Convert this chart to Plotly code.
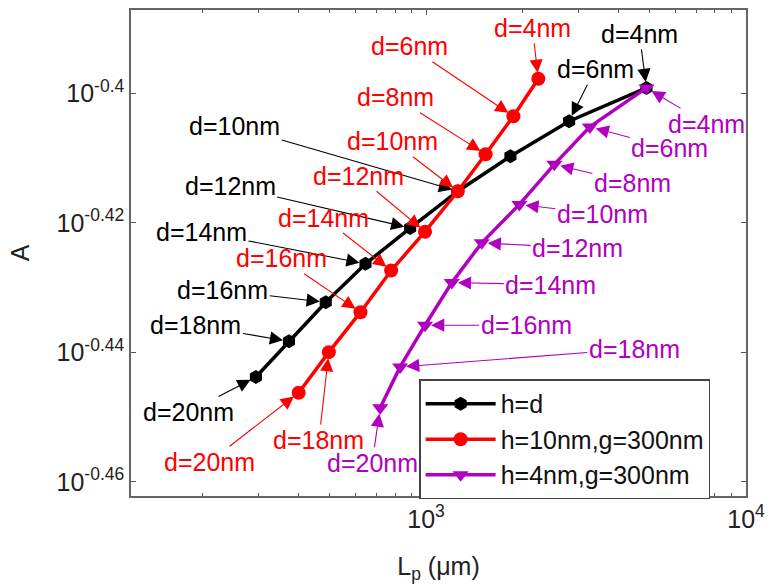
import numpy as np
import plotly.graph_objects as go

# ---------------- data ----------------
d_nm = [20, 18, 16, 14, 12, 10, 8, 6, 4]

black_Lp = [294, 373, 486, 647, 892, 1257, 1836, 2800, 4885]
black_A = [0.3599, 0.3645, 0.3696, 0.3747, 0.3795, 0.3845, 0.3893, 0.3942, 0.3989]

red_Lp = [400, 497, 624, 778, 993, 1257, 1535, 1875, 2244]
red_A = [0.3579, 0.3631, 0.3683, 0.3738, 0.3790, 0.3845, 0.3896, 0.3949, 0.4002]

purple_Lp = [719, 830, 993, 1204, 1493, 1958, 2518, 3251, 4885]
purple_A = [0.3560, 0.3612, 0.3666, 0.3722, 0.3775, 0.3827, 0.3882, 0.3934, 0.3989]

series_names = ["h=d", "h=10nm,g=300nm", "h=4nm,g=300nm"]

x_tickvals = [1e3, 1e4]
x_ticktext = ["10<sup>3</sup>", "10<sup>4</sup>"]
y_exponents = ["-0.4", "-0.42", "-0.44", "-0.46"]

# label offsets (pixels, text centre relative to the point); None = no label
black_off = [(-67, 35), (-93, -16), (-103, -12), (-164, -32), (-180, -42),
             (-223, -65), None, (26, -52), (-7, -54)]
red_off = [(-89, 69), (-10, 88), (-79, -54), (-68, -53), (-67, -56),
           (-65, -50), (-90, -57), (-104, -70), (-6, -51)]
purple_off = [(-8, 55), (234, -18), (101, 0), (99, 2), (96, 5),
              (83, 10), (78, 19), (80, 21), (60, 36)]

BLACK = "#000000"
RED = "#FF0000"
PURPLE = "#B000C0"
FONT = "Liberation Sans, Arial, sans-serif"
FS = 25

fig = go.Figure()
for name, xs, ys, col, sym in [
    (series_names[0], black_Lp, black_A, BLACK, "hexagon"),
    (series_names[1], red_Lp, red_A, RED, "circle"),
    (series_names[2], purple_Lp, purple_A, PURPLE, "triangle-down"),
]:
    fig.add_trace(go.Scatter(
        x=xs, y=ys, name=name, mode="lines+markers",
        line=dict(color=col, width=3.5),
        marker=dict(color=col, size=14, symbol=sym),
    ))

annotations = []
for xs, ys, offs, col in [
    (black_Lp, black_A, black_off, BLACK),
    (red_Lp, red_A, red_off, RED),
    (purple_Lp, purple_A, purple_off, PURPLE),
]:
    for d, x, y, off in zip(d_nm, xs, ys, offs):
        if off is None:
            continue
        annotations.append(dict(
            x=np.log10(x), y=np.log10(y), xref="x", yref="y",
            text=f"d={d}nm", showarrow=True, ax=off[0], ay=off[1],
            arrowhead=2, arrowsize=2.4, arrowwidth=1.1, arrowcolor=col,
            standoff=6, font=dict(family=FONT, size=FS, color=col),
        ))

fig.update_layout(
    width=773, height=584,
    margin=dict(l=131, r=23, t=8, b=88),
    paper_bgcolor="white", plot_bgcolor="white",
    font=dict(family=FONT, size=FS, color="#222"),
    showlegend=True,
    legend=dict(
        x=0.4685, y=0.2398, xanchor="left", yanchor="top",
        bgcolor="white", bordercolor="#444", borderwidth=1.5,
        font=dict(family=FONT, size=25, color="#111"),
        itemwidth=70, tracegroupgap=0,
    ),
    annotations=annotations,
    xaxis=dict(
        type="log", range=[2.078, 4.0],
        tickmode="array", tickvals=x_tickvals, ticktext=x_ticktext,
        ticks="inside", ticklen=5, tickcolor="#555",
        showline=True, linecolor="#666", linewidth=1.5, mirror="allticks",
        showgrid=False, zeroline=False,
        minor=dict(
            tickmode="array",
            tickvals=[v * m for m in (100, 1000) for v in range(2, 10)],
            ticks="inside", ticklen=3, tickcolor="#555", showgrid=False,
        ),
        tickfont=dict(family=FONT, size=FS, color="#222"),
        title=dict(text="L<sub>p</sub> (μm)", standoff=26,
                   font=dict(family=FONT, size=FS, color="#222")),
    ),
    yaxis=dict(
        type="log", range=[-0.4622, -0.3871],
        tickmode="array", tickvals=[10 ** float(e) for e in y_exponents],
        ticktext=[f"10<sup>{e}</sup>" for e in y_exponents],
        ticks="inside", ticklen=5, tickcolor="#555",
        showline=True, linecolor="#666", linewidth=1.5, mirror="allticks",
        showgrid=False, zeroline=False,
        tickfont=dict(family=FONT, size=FS, color="#222"),
        title=dict(text="A", standoff=20,
                   font=dict(family=FONT, size=FS, color="#222")),
    ),
)

fig.write_html("out.html")
